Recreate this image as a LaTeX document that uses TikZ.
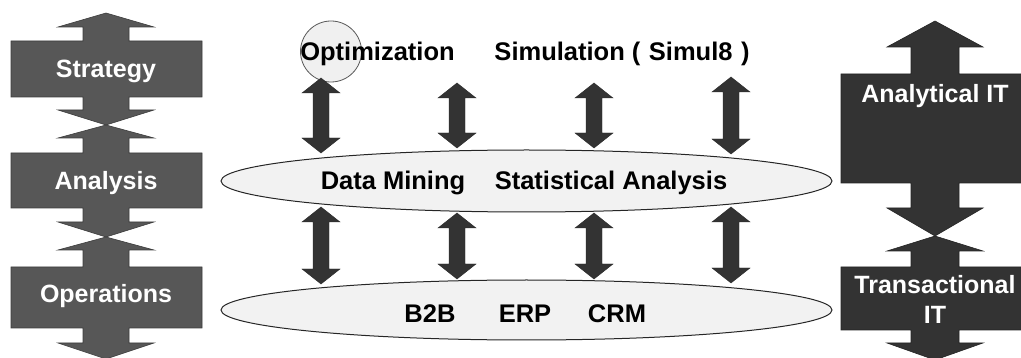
\documentclass[tikz,border=0pt]{standalone}
\usepackage{fontspec}
\setmainfont{Liberation Sans}
\usetikzlibrary{shapes.geometric,calc}
\definecolor{leftgray}{HTML}{575757}
\definecolor{rightgray}{HTML}{333333}
\definecolor{arrowgray}{HTML}{333333}
\definecolor{ellfill}{HTML}{F2F2F2}
\definecolor{circfill}{HTML}{F0F0F0}
\newcommand\fatdbl[2]{%
  \path[fill=arrowgray,draw=arrowgray!80!black,line width=0.4pt,line join=miter]
    let \p1=(#1), \p2=(#2) in
    (\x1,\y1) -- (\x1+19pt,\y1-15pt) -- (\x1+8pt,\y1-15pt) -- (\x1+8pt,\y2+15pt)
    -- (\x1+19pt,\y2+15pt) -- (\x2,\y2) -- (\x1-19pt,\y2+15pt) -- (\x1-8pt,\y2+15pt)
    -- (\x1-8pt,\y1-15pt) -- (\x1-19pt,\y1-15pt) -- cycle;}
\begin{document}
\begin{tikzpicture}[x=1pt,y=-1pt,
  boxtext/.style={text=white,font=\fontsize{25}{30}\selectfont\bfseries,inner sep=0pt},
  midtext/.style={text=black,font=\fontsize{25.5}{30}\selectfont\bfseries,inner sep=0pt,anchor=base},
  leftshape/.style={fill=leftgray,draw=leftgray!70!black,line width=0.6pt,line join=miter},
  rightshape/.style={fill=rightgray,draw=rightgray!70!black,line width=0.6pt,line join=miter},
  ellbox/.style={ellipse,fill=ellfill,draw=black!85,line width=1pt,inner sep=0pt}]
\useasboundingbox (0,0) rectangle (1021,358);
\clip (0,0) rectangle (1021,358);

% ---------- left column ----------
\path[leftshape] (106,13) -- (154,27) -- (129,27) -- (129,41) -- (202,41) -- (202,97)
  -- (129,97) -- (129,110) -- (154,110) -- (106,125) -- (58,110) -- (83,110) -- (83,97)
  -- (11,97) -- (11,41) -- (83,41) -- (83,27) -- (58,27) -- cycle;
\path[leftshape] (106,125) -- (154,138) -- (129,138) -- (129,153) -- (202,153) -- (202,208)
  -- (129,208) -- (129,222) -- (154,222) -- (106,237) -- (58,222) -- (83,222) -- (83,208)
  -- (11,208) -- (11,153) -- (83,153) -- (83,138) -- (58,138) -- cycle;
\path[leftshape] (106,237) -- (154,250) -- (129,250) -- (129,267) -- (202,267) -- (202,328)
  -- (129,328) -- (129,343) -- (154,343) -- (106,359) -- (58,343) -- (83,343) -- (83,328)
  -- (11,328) -- (11,267) -- (83,267) -- (83,250) -- (58,250) -- cycle;
\node[boxtext,anchor=base] (strategy) at (106,78) {Strategy};
\node[boxtext,anchor=base] (analysis) at (106,190) {Analysis};
\node[boxtext,anchor=base] (operations) at (106,303) {Operations};

% ---------- right column ----------
\path[rightshape] (935,21) -- (983,47) -- (959,47) -- (959,74) -- (1030,74) -- (1030,183)
  -- (959,183) -- (959,208) -- (983,208) -- (935,236) -- (887,208) -- (911,208) -- (911,183)
  -- (841,183) -- (841,74) -- (911,74) -- (911,47) -- (887,47) -- cycle;
\path[rightshape] (935,236) -- (983,251) -- (959,251) -- (959,267) -- (1030,267) -- (1030,330)
  -- (959,330) -- (959,343) -- (983,343) -- (935,360) -- (887,343) -- (911,343) -- (911,330)
  -- (841,330) -- (841,267) -- (911,267) -- (911,251) -- (887,251) -- cycle;
\node[boxtext,anchor=base] (analyticalit) at (935,103) {Analytical IT};
\node[boxtext,align=center] (transactionalit) at (935,299) {Transactional\\IT};

% ---------- centre ----------
\node[circle,minimum size=61pt,inner sep=0pt,fill=circfill,draw=black!65,line width=0.8pt] (circ) at (331,51.5) {};
\node[midtext] (optim) at (377.5,61) {Optimization};
\node[midtext] (simul) at (622,61) {Simulation (\,\,Simul8\,\,)};

\node[ellbox,minimum width=611pt,minimum height=62pt] (ellA) at (526.5,181) {};
\node[ellbox,minimum width=611pt,minimum height=60pt] (ellB) at (526.5,310) {};

\node[midtext] (dm) at (393,190) {Data Mining};
\node[midtext] (sa) at (611,190) {Statistical Analysis};
\node[midtext] (b2b) at (430,323) {B2B};
\node[midtext] (erp) at (525,323) {ERP};
\node[midtext] (crm) at (617,323) {CRM};

% arrow end points
\coordinate (t1a) at (321,78);  \coordinate (t1b) at (321,153);
\coordinate (t2a) at (457,83);  \coordinate (t2b) at (457,148);
\coordinate (t3a) at (594,83);  \coordinate (t3b) at (594,148);
\coordinate (t4a) at (731,77);  \coordinate (t4b) at (731,154);
\coordinate (b1a) at (321,207); \coordinate (b1b) at (321,284);
\coordinate (b2a) at (457,213); \coordinate (b2b) at (457,279);
\coordinate (b3a) at (594,213); \coordinate (b3b) at (594,279);
\coordinate (b4a) at (731,207); \coordinate (b4b) at (731,283);
\fatdbl{t1a}{t1b}
\fatdbl{t2a}{t2b}
\fatdbl{t3a}{t3b}
\fatdbl{t4a}{t4b}
\fatdbl{b1a}{b1b}
\fatdbl{b2a}{b2b}
\fatdbl{b3a}{b3b}
\fatdbl{b4a}{b4b}
\end{tikzpicture}
\end{document}
